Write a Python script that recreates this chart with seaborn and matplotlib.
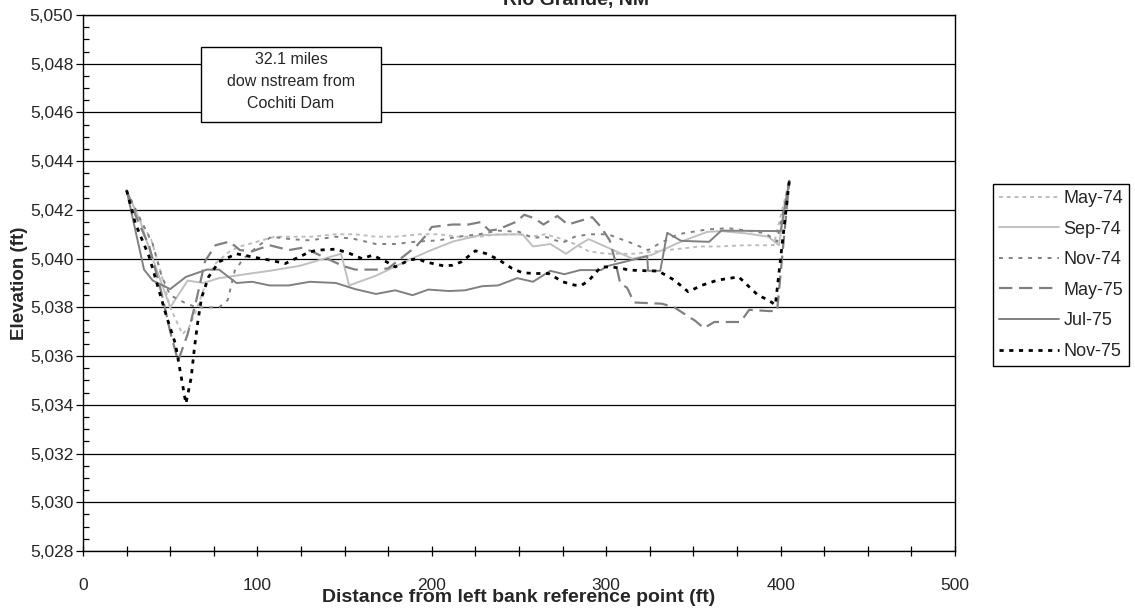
import matplotlib
matplotlib.use("Agg")
import matplotlib.pyplot as plt
import matplotlib.ticker as mticker
from matplotlib.patches import Rectangle
import pandas as pd
import seaborn as sns

# Cross-section surveys, Rio Grande 32.1 mi below Cochiti Dam
# distance from left bank reference point (ft) / bed elevation (ft)
may74_x = [25, 31, 39, 44, 50, 57, 61, 65, 70, 76, 84, 90, 100, 110, 120, 131, 145, 156, 168, 179,
           193, 204, 215, 227, 238, 250, 257, 265, 275, 282, 290, 300, 316, 335, 354, 365, 379, 396, 405]
may74_y = [5042.8, 5041.8, 5040.8, 5039.6, 5038.0, 5036.9, 5037.2, 5037.9, 5038.9, 5039.8, 5040.3,
           5040.5, 5040.7, 5040.9, 5040.9, 5040.9, 5041.0, 5041.0, 5040.9, 5040.9, 5041.0, 5041.0,
           5040.9, 5040.9, 5041.0, 5041.0, 5040.9, 5041.0, 5040.8, 5040.6, 5040.3, 5040.2, 5040.2,
           5040.35, 5040.5, 5040.5, 5040.55, 5040.55, 5043.2]

sep74_x = [25, 33, 38, 44, 50, 60, 69, 78, 97, 107, 124, 148, 152.6, 168, 187, 198, 212, 228, 252,
           258, 268, 277, 284, 290, 315, 326, 343, 358, 366, 381, 393, 399, 405]
sep74_y = [5042.8, 5041.5, 5040.4, 5039.2, 5038.0, 5039.1, 5039.0, 5039.2, 5039.4, 5039.5, 5039.7,
           5040.2, 5038.9, 5039.3, 5039.95, 5040.3, 5040.7, 5040.97, 5041.0, 5040.5, 5040.6, 5040.2,
           5040.55, 5040.8, 5040.0, 5040.15, 5040.7, 5041.1, 5041.13, 5041.03, 5040.9, 5040.55, 5043.2]

nov74_x = [25, 33, 40, 45, 50, 58, 65, 72, 78, 83, 87, 92, 100, 108, 119, 130, 145, 156, 168, 179,
           191, 204, 215, 227, 238, 250, 258, 265, 275, 282, 290, 301, 316, 324, 330, 341, 358, 370,
           391, 398, 405]
nov74_y = [5042.8, 5041.6, 5040.6, 5039.3, 5038.5, 5038.2, 5038.0, 5038.0, 5038.0, 5038.3, 5039.5,
           5040.0, 5040.5, 5040.9, 5040.8, 5040.75, 5040.9, 5040.8, 5040.6, 5040.6, 5040.7, 5040.75,
           5040.9, 5041.0, 5041.15, 5041.1, 5040.85, 5040.9, 5040.65, 5040.9, 5041.0, 5041.0,
           5040.6, 5040.35, 5040.6, 5041.0, 5041.2, 5041.25, 5041.05, 5040.7, 5043.2]

may75_x = [25, 30, 38, 45, 50, 54.5, 60, 65, 70, 76, 84, 90, 97, 107, 118, 126, 131, 143, 149, 156,
           168, 175, 183, 191, 196, 200, 212, 221, 228, 233, 238, 248, 253, 259, 264, 272, 278, 292,
           297, 302, 305, 308, 312, 316, 332, 339, 351, 356, 362, 369, 377, 382, 393, 398, 405]
may75_y = [5042.8, 5041.8, 5040.5, 5038.6, 5037.0, 5035.8, 5036.9, 5038.3, 5039.9, 5040.55, 5040.7,
           5040.35, 5040.3, 5040.55, 5040.35, 5040.45, 5040.3, 5039.9, 5039.7, 5039.55, 5039.55,
           5039.6, 5040.05, 5040.5, 5040.9, 5041.3, 5041.4, 5041.4, 5041.5, 5041.15, 5041.2, 5041.5,
           5041.8, 5041.65, 5041.4, 5041.75, 5041.4, 5041.7, 5041.3, 5040.75, 5039.95, 5039.0,
           5038.8, 5038.2, 5038.15, 5038.0, 5037.45, 5037.15, 5037.4, 5037.4, 5037.4, 5037.9,
           5037.85, 5037.85, 5043.2]

jul75_x = [25, 35, 40, 50, 59, 71, 78, 88, 97, 107, 118, 130, 145, 156, 168, 179, 189, 198, 210,
           219, 229, 238, 249, 258, 268, 276, 285, 297, 301, 323.5, 324, 331, 335, 343, 359, 366,
           400, 405]
jul75_y = [5042.8, 5039.55, 5039.1, 5038.75, 5039.25, 5039.55, 5039.55, 5039.0, 5039.05, 5038.9,
           5038.9, 5039.05, 5039.0, 5038.75, 5038.55, 5038.7, 5038.5, 5038.73, 5038.67, 5038.7,
           5038.87, 5038.9, 5039.2, 5039.05, 5039.5, 5039.36, 5039.53, 5039.53, 5039.7, 5040.1,
           5039.5, 5039.5, 5041.06, 5040.73, 5040.69, 5041.15, 5041.13, 5043.2]

nov75_x = [25, 30, 38, 48, 53, 59, 62, 64, 66, 68, 72, 78, 88, 97, 107, 116, 126, 130, 135, 145,
           153, 160, 166, 174, 179, 187, 192, 196, 207, 212, 217, 225, 231, 238, 246, 252, 259, 267,
           275, 282, 286, 290, 297, 303, 309, 313, 324, 330, 339, 347, 355, 364, 376, 381, 387, 393,
           397, 405]
nov75_y = [5042.8, 5041.45, 5040.07, 5037.6, 5036.5, 5034.05, 5035.1, 5036.4, 5037.5, 5038.4,
           5039.25, 5039.87, 5040.2, 5040.07, 5039.94, 5039.8, 5040.14, 5040.28, 5040.35, 5040.39,
           5040.21, 5040.0, 5040.14, 5039.87, 5039.66, 5039.94, 5040.0, 5039.87, 5039.7, 5039.73,
           5039.87, 5040.32, 5040.21, 5039.97, 5039.6, 5039.42, 5039.39, 5039.39, 5039.05, 5038.91,
           5038.91, 5039.1, 5039.66, 5039.66, 5039.6, 5039.53, 5039.5, 5039.49, 5039.12, 5038.64,
           5038.91, 5039.12, 5039.25, 5038.91, 5038.5, 5038.3, 5038.1, 5043.2]

survey_names = ["May-74", "Sep-74", "Nov-74", "May-75", "Jul-75", "Nov-75"]
survey_x = [may74_x, sep74_x, nov74_x, may75_x, jul75_x, nov75_x]
survey_y = [may74_y, sep74_y, nov74_y, may75_y, jul75_y, nov75_y]

# excel-ish greyscale line styles
line_styles = {
    "May-74": dict(color="#bdbdbd", lw=1.4, ls=(0, (2, 2))),
    "Sep-74": dict(color="#c0c0c0", lw=1.4, ls="-"),
    "Nov-74": dict(color="#808080", lw=1.4, ls=(0, (2, 3))),
    "May-75": dict(color="#808080", lw=1.6, ls=(0, (6, 3))),
    "Jul-75": dict(color="#808080", lw=1.4, ls="-"),
    "Nov-75": dict(color="#000000", lw=2.0, ls=(0, (1.5, 2))),
}

sns.set_theme(style="white")
plt.rcParams["font.family"] = ["Liberation Sans", "DejaVu Sans"]

fig = plt.figure(figsize=(11.35, 6.12), dpi=100)
ax = fig.add_axes([83 / 1135, 1 - 551 / 612, (955 - 83) / 1135, 536 / 612])

for name, xs, ys in zip(survey_names, survey_x, survey_y):
    df = pd.DataFrame({"dist": xs, "elev": ys})
    st = line_styles[name]
    sns.lineplot(data=df, x="dist", y="elev", ax=ax, sort=False, estimator=None,
                 color=st["color"], linewidth=st["lw"], linestyle=st["ls"], label=name)

ax.set_xlim(0, 500)
ax.set_ylim(5028, 5050)
ax.xaxis.set_major_locator(mticker.MultipleLocator(100))
ax.xaxis.set_minor_locator(mticker.MultipleLocator(25))
ax.yaxis.set_major_locator(mticker.MultipleLocator(2))
ax.yaxis.set_minor_locator(mticker.MultipleLocator(0.5))
ax.yaxis.set_major_formatter(mticker.FuncFormatter(lambda v, p: f"{v:,.0f}"))

ax.set_axisbelow(True)
ax.yaxis.grid(True, color="black", lw=0.9)
ax.xaxis.grid(False)
for sp in ax.spines.values():
    sp.set_color("black")
    sp.set_linewidth(1.0)

ax.tick_params(axis="x", which="both", bottom=True, direction="inout", length=7, width=0.9,
               color="black", labelsize=12.5, pad=16)
ax.tick_params(axis="y", which="major", left=True, direction="out", length=5, width=0.9,
               color="black", labelsize=12.5, pad=2)
ax.tick_params(axis="y", which="minor", left=True, direction="in", length=4, width=0.9,
               color="black")

ax.set_xlabel("Distance from left bank reference point (ft)", fontsize=14, fontweight="bold",
              labelpad=-3)
ax.set_ylabel("Elevation (ft)", fontsize=13.5, fontweight="bold")
ax.yaxis.set_label_coords(-0.063, 0.5)

fig.text(576 / 1135, 1 - 5 / 612, "Rio Grande, NM", ha="center", va="baseline",
         fontsize=14, fontweight="bold")

# location note box
ax.add_patch(Rectangle((0.1353, 0.8004), 0.2064, 0.1399, transform=ax.transAxes,
                       facecolor="white", edgecolor="black", lw=1.0, zorder=5))
ax.text(0.2385, 0.876, "32.1 miles\ndow nstream from\nCochiti Dam", transform=ax.transAxes,
        ha="center", va="center", fontsize=11.5, linespacing=1.6, zorder=6)

leg = ax.legend(loc="center left", bbox_to_anchor=(993 / 1135, 1 - 275 / 612),
                bbox_transform=fig.transFigure, frameon=True, fancybox=False,
                edgecolor="black", framealpha=1, fontsize=13, handlelength=3.3,
                handletextpad=0.25, labelspacing=0.75, borderaxespad=0, borderpad=0.35)
leg.get_frame().set_linewidth(1.0)

fig.savefig("out.png", dpi=100)
